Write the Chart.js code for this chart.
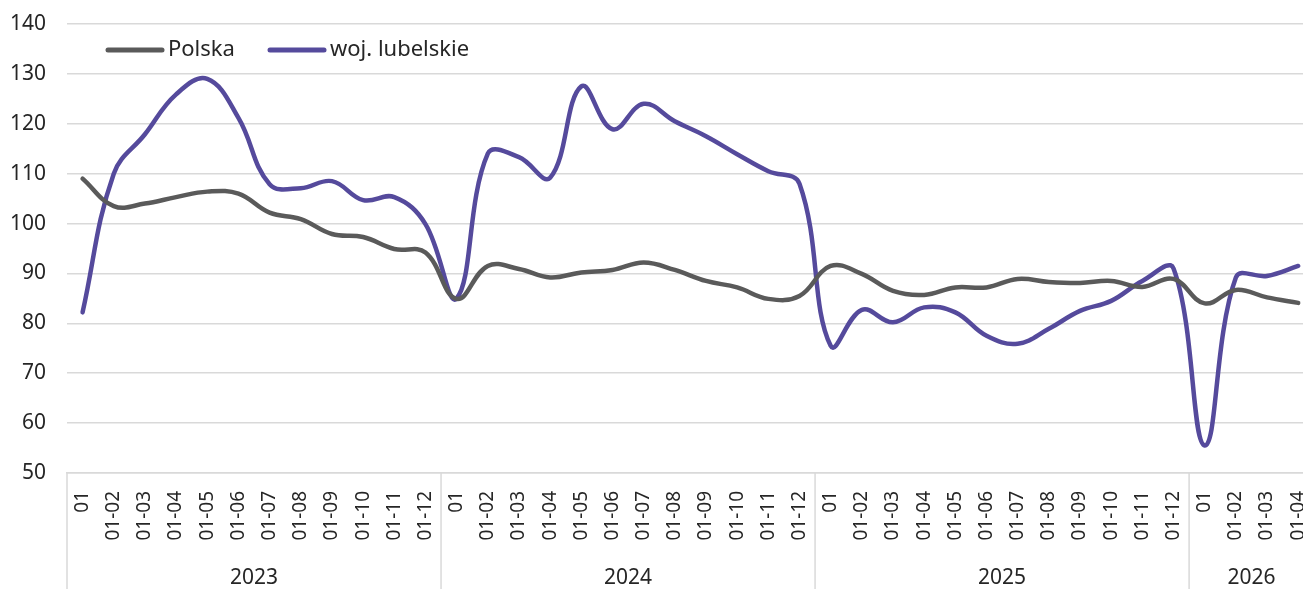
<!DOCTYPE html>
<html lang="pl">
<head>
<meta charset="utf-8">
<title>Polska vs woj. lubelskie</title>
<script src="https://cdn.jsdelivr.net/npm/chart.js@4.4.1/dist/chart.umd.min.js"></script>
<style>
  html, body { margin: 0; padding: 0; background: #fff; overflow: hidden; }
  /* plot runs a bit past the right edge of the window, as in the source */
  #wrap { position: relative; width: 1331px; height: 589px; }
</style>
</head>
<body>
<div id="wrap"><canvas id="chart"></canvas></div>
<script>
// chart data
const years = ['2023', '2024', '2025', '2026'];
const monthsPerYear = [12, 12, 12, 4];
const monthLabels = ['01', '01-02', '01-03', '01-04', '01-05', '01-06',
                     '01-07', '01-08', '01-09', '01-10', '01-11', '01-12'];

const polska = [
  109.0, 103.5, 104.0, 105.3, 106.4, 106.0, 102.2, 100.9, 97.9, 97.3, 94.9, 94.2,
  84.9, 91.5, 90.9, 89.2, 90.2, 90.7, 92.2, 90.7, 88.5, 87.2, 84.9, 85.5,
  91.5, 89.9, 86.5, 85.7, 87.2, 87.2, 88.9, 88.3, 88.1, 88.5, 87.3, 88.9,
  84.0, 86.7, 85.2, 84.1
];
const lubelskie = [
  82.2, 110.0, 117.9, 125.9, 129.0, 121.2, 107.9, 107.1, 108.5, 104.7, 105.3, 99.9,
  85.0, 114.0, 113.3, 109.2, 127.5, 118.9, 124.0, 120.5, 117.5, 113.9, 110.5, 108.0,
  75.5, 82.7, 80.2, 83.2, 82.2, 77.5, 75.9, 78.9, 82.5, 84.5, 88.5, 91.0,
  55.5, 89.2, 89.5, 91.5
];

const seriesNames = ['Polska', 'woj. lubelskie'];
const seriesColors = ['#5a5a5a', '#554a9c'];

const FONT = '"Noto Sans", "DejaVu Sans", sans-serif';
const TEXT = '#262626';
const GRID = '#d9d9d9';

// flat category list: 01, 01-02 ... per year
const labels = [];
years.forEach((y, yi) => {
  for (let m = 0; m < monthsPerYear[yi]; m++) labels.push(monthLabels[m]);
});

/* --------------------- year groups + legend (plugin) --------------------- */
const groupAxis = {
  id: 'groupAxis',
  afterDraw(chart) {
    const { ctx, chartArea } = chart;
    const xs = chart.scales.x;
    const H = chart.height;
    const step = xs.getPixelForTick(1) - xs.getPixelForTick(0);

    ctx.save();
    // separators + year labels
    let start = 0;
    ctx.strokeStyle = GRID;
    ctx.lineWidth = 1.5;
    ctx.fillStyle = TEXT;
    ctx.font = '21px ' + FONT;
    ctx.textAlign = 'center';
    ctx.textBaseline = 'middle';
    years.forEach((y, yi) => {
      const left = xs.getPixelForTick(start) - step / 2;
      const right = xs.getPixelForTick(start + monthsPerYear[yi] - 1) + step / 2;
      ctx.beginPath();
      ctx.moveTo(left, chartArea.bottom);
      ctx.lineTo(left, H);
      ctx.stroke();
      ctx.fillText(y, (left + right) / 2, 578);
      start += monthsPerYear[yi];
    });

    // legend, top-left inside plot
    const legendX = [108, 270];
    ctx.textAlign = 'left';
    ctx.lineCap = 'round';
    ctx.font = '22px ' + FONT;
    seriesNames.forEach((name, i) => {
      ctx.strokeStyle = seriesColors[i];
      ctx.lineWidth = 5;
      ctx.beginPath();
      ctx.moveTo(legendX[i], 50);
      ctx.lineTo(legendX[i] + 54, 50);
      ctx.stroke();
      ctx.fillStyle = TEXT;
      ctx.fillText(name, legendX[i] + 60, 50);
    });
    ctx.restore();
  }
};

new Chart(document.getElementById('chart'), {
  type: 'line',
  data: {
    labels,
    datasets: [
      { label: seriesNames[0], data: polska, borderColor: seriesColors[0] },
      { label: seriesNames[1], data: lubelskie, borderColor: seriesColors[1] }
    ].map(d => ({ ...d, borderWidth: 4.5, pointRadius: 0, tension: 0.4, fill: false,
                  borderCapStyle: 'round', borderJoinStyle: 'round' }))
  },
  options: {
    responsive: true,
    maintainAspectRatio: false,
    animation: false,
    layout: { padding: { top: 24, left: 0, right: 0, bottom: 0 } },
    plugins: { legend: { display: false }, tooltip: { enabled: false } },
    scales: {
      x: {
        offset: true,
        grid: { display: false },
        border: { display: true, color: GRID, width: 1.5 },
        ticks: {
          color: TEXT, font: { size: 19, family: FONT },
          minRotation: 90, maxRotation: 90, autoSkip: false, padding: 10
        },
        afterFit(scale) { scale.height = 116; }
      },
      y: {
        min: 50, max: 140,
        grid: { color: GRID, lineWidth: 1.5, drawTicks: false },
        border: { display: false },
        ticks: { stepSize: 10, color: TEXT, font: { size: 21, family: FONT }, padding: 21 },
        afterFit(scale) {
          scale.width = 67;
          // label-based padding pushes the plot down too far; plot top sits at 24px
          scale.paddingTop = 0;
          scale.paddingBottom = 0;
        }
      }
    }
  },
  plugins: [groupAxis]
});
</script>
</body>
</html>
